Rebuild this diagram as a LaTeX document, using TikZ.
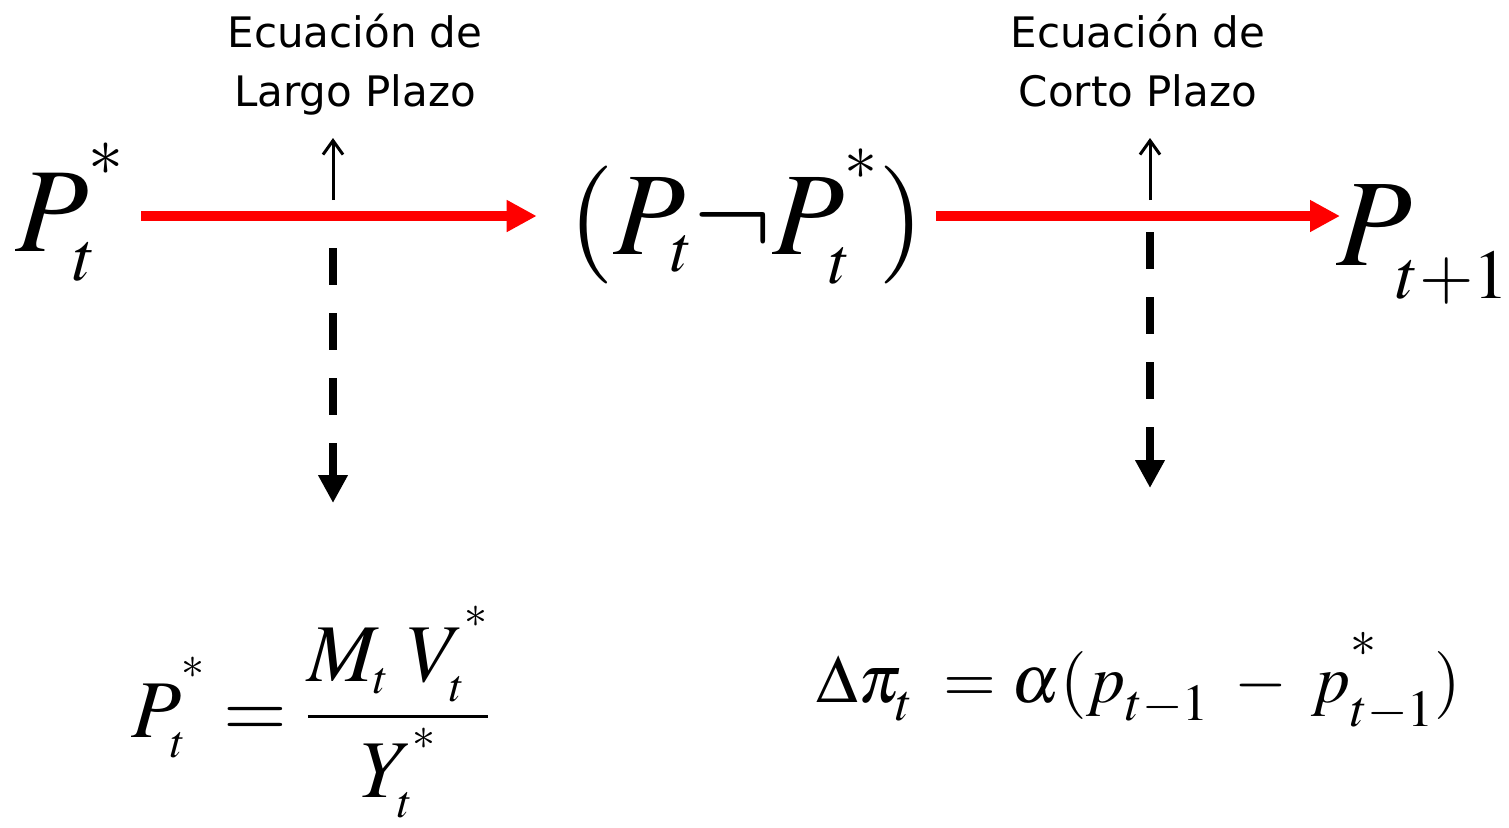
\documentclass[tikz,border=0pt]{standalone}
\usepackage{mathptmx}
\usepackage[no-math]{fontspec}
\setsansfont{DejaVu Sans}
\usetikzlibrary{arrows.meta}
\DeclareMathSizes{60}{60}{35}{26}
\DeclareMathSizes{59}{59}{33}{24}
\DeclareMathSizes{62}{62}{35}{26}
\DeclareMathSizes{41}{41}{23}{16}
\DeclareMathSizes{34}{34}{26}{18}
\newcommand\st{^{\raisebox{0.27em}{$\scriptstyle *$}}}
\newcommand\stb{^{\raisebox{0.3em}{$\scriptstyle *$}}}
\newcommand\lsub[1]{_{\raisebox{-0.12em}{$\scriptstyle #1$}}}
\begin{document}
\begin{tikzpicture}[x=0.5pt,y=-0.5pt,
  lab/.style={font=\sffamily\fontsize{21}{29.5}\selectfont, align=center, inner sep=0pt, anchor=north},
  mth/.style={inner sep=0pt},
  redarr/.style={draw=red, line width=5pt, -{Triangle[length=15pt,width=15pt]}},
  uparr/.style={line width=1.5pt, -{Straight Barb[length=7pt,width=10pt]}},
  dashdown/.style={line width=4pt, dash pattern=on 18.5pt off 14pt, -{Triangle[length=14pt,width=14pt]}}
]
\useasboundingbox (0,0) rectangle (1509,827);
\node[lab] (lab1) at (355,13) {Ecuación de\\Largo Plazo};
\node[lab] (lab2) at (1138,13) {Ecuación de\\Corto Plazo};
\node[mth, anchor=base, font=\fontsize{60}{72}\selectfont] (Ps) at (70,251) {$P_t\st$};
\node[mth, anchor=base, font=\fontsize{59}{70}\selectfont] (Df) at (746,254) {$(P_t\neg P_t\st)$};
\node[mth, anchor=base west, font=\fontsize{62}{74}\selectfont] (Pn) at (1336,265) {$P\lsub{t+1}$};
\node[mth, anchor=base, font=\fontsize{41}{50}\selectfont] (F1) at (311,737) {$\displaystyle P_t\stb=\frac{M_t\;V_t\stb}{Y_t\stb}$};
\node[mth, anchor=base, font=\fontsize{34}{41}\selectfont] (F2) at (1139,702) {$\Delta\pi\lsub{t}\;=\alpha(p\lsub{t-1}\;-\;p\stb\lsub{t-1})$};
\coordinate (ly) at (0,216);
\draw[redarr, shorten <=8pt, shorten >=15.5pt] (Ps.east |- ly) -- (Df.west |- ly);
\draw[redarr, shorten <=6pt, shorten >=-2pt] (Df.east |- ly) -- (Pn.west |- ly);
\coordinate (j1) at (333,216);
\coordinate (j2) at (1150,216);
\coordinate (u1) at (333,138);
\coordinate (u2) at (1150,138);
\coordinate (d1) at (333,503);
\coordinate (d2) at (1150,488);
\draw[uparr, shorten <=8pt] (j1) -- (u1);
\draw[dashdown, shorten <=16pt] (j1) -- (d1);
\draw[uparr, shorten <=8pt] (j2) -- (u2);
\draw[dashdown, shorten <=8pt] (j2) -- (d2);
\end{tikzpicture}
\end{document}
